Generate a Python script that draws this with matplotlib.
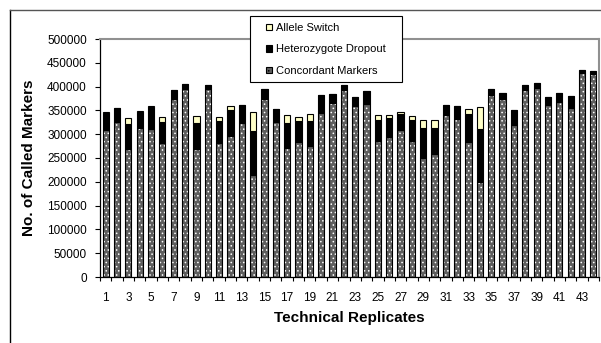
'''
    Stacked bar chart of called markers per technical replicate
'''

from matplotlib import pyplot as plt
from matplotlib.patches import Patch, Rectangle
from matplotlib.lines import Line2D
import numpy as np

plt.rcParams['font.family'] = ['Liberation Sans', 'DejaVu Sans']
plt.rcParams['hatch.linewidth'] = 0.6

# Called markers per replicate (thousands): concordant, het. dropout, allele switch
replicates = list(range(1, 45))
concordant = [309, 326, 269, 314, 311, 281, 374, 396, 268, 395, 282,
              297, 324, 215, 374, 325, 271, 284, 276, 345, 365, 392,
              359, 363, 285, 295, 308, 286, 249, 258, 340, 331, 284,
              200, 383, 375, 320, 393, 398, 362, 368, 356, 428, 426]
dropout = [35, 28, 52, 33, 47, 44, 19, 9, 55, 8, 46,
           53, 37, 92, 20, 27, 53, 44, 52, 37, 19, 11,
           20, 28, 45, 39, 35, 44, 63, 56, 21, 28, 59,
           110, 12, 11, 30, 10, 10, 17, 18, 25, 6, 6]
allele_switch = [2, 0, 12, 2, 2, 11, 0, 0, 15, 0, 8,
                 10, 0, 40, 0, 0, 16, 9, 14, 0, 0, 0,
                 0, 0, 10, 6, 4, 8, 18, 15, 0, 0, 9,
                 47, 0, 0, 0, 0, 0, 0, 0, 0, 0, 0]

labels = ['Allele Switch', 'Heterozygote Dropout', 'Concordant Markers']
yticks = np.arange(0, 500001, 50000)

BAR_WIDTH = 0.55
GREY_FILL = '#5e5e5e'
ALLELE_FILL = '#ffffc8'
OUTLINE = {'facecolor': 'none', 'edgecolor': 'k', 'linewidth': 0.8}

def main():
    x = np.array(replicates)
    conc = np.array(concordant) * 1000
    drop = np.array(dropout) * 1000
    allele = np.array(allele_switch) * 1000

    fig = plt.figure(figsize=(6.01, 3.43), dpi=100)
    W, H = 601.0, 343.0

    # outer chart frame
    fig.add_artist(Line2D([10 / W, 10 / W], [0, 1 - 10 / H], color='k', lw=1.0))
    fig.add_artist(Line2D([10 / W, 1], [1 - 10 / H, 1 - 10 / H], color='#555555', lw=1.0))

    ax = fig.add_axes([100 / W, 66 / H, 499 / W, 238 / H])

    # concordant markers: grey with white dot pattern, outlined separately
    ax.bar(x, conc, BAR_WIDTH, color=GREY_FILL, edgecolor='white',
           hatch='....', linewidth=0, zorder=2)
    ax.bar(x, conc, BAR_WIDTH, zorder=3, **OUTLINE)
    ax.bar(x, drop, BAR_WIDTH, bottom=conc, color='k', edgecolor='k',
           linewidth=0.8, zorder=3)
    ax.bar(x, allele, BAR_WIDTH, bottom=conc + drop, color=ALLELE_FILL,
           edgecolor='k', linewidth=0.8, zorder=3)

    ax.set_xlim(0.5, 44.5)
    ax.set_ylim(0, 500000)
    ax.set_yticks(yticks)
    ax.set_yticklabels([str(v) for v in yticks], fontsize=8.5)

    # labels every other replicate, tick marks on category boundaries
    ax.set_xticks(x[::2])
    ax.set_xticklabels([str(v) for v in replicates[::2]], fontsize=8.5)
    ax.set_xticks(np.arange(0.5, 45, 1), minor=True)
    ax.tick_params(axis='x', which='major', length=0, pad=11)
    ax.tick_params(axis='x', which='minor', length=3, width=0.8, direction='out')
    ax.tick_params(axis='y', length=3.5, width=0.8, pad=6)

    for side in ['left', 'bottom']:
        ax.spines[side].set_linewidth(0.9)
    for side in ['top', 'right']:
        ax.spines[side].set_color('#909090')
        ax.spines[side].set_linewidth(1.5)

    ax.set_ylabel('No. of Called Markers', fontsize=11, fontweight='bold', labelpad=8)
    ax.set_xlabel('Technical Replicates', fontsize=11, fontweight='bold', labelpad=5)

    # legend box drawn by hand so the padding can differ per side
    fig.add_artist(Rectangle((250 / W, 1 - 82 / H), 152 / W, 66 / H,
                             transform=fig.transFigure, facecolor='white',
                             edgecolor='k', linewidth=0.8, zorder=9))
    handles = [Patch(facecolor=ALLELE_FILL, edgecolor='k', linewidth=0.8),
               Patch(facecolor='k', edgecolor='k', linewidth=0.8),
               Patch(facecolor=GREY_FILL, edgecolor='k', linewidth=0.8, hatch='....')]
    leg = fig.legend(handles, labels, loc='upper left',
                     bbox_to_anchor=(266 / W, 1 - 23 / H), fontsize=8,
                     handlelength=0.55, handleheight=0.55, handletextpad=0.35,
                     labelspacing=1.03, borderpad=0, borderaxespad=0,
                     frameon=False)
    leg.set_zorder(10)

    fig.savefig('out.png', dpi=100)
    plt.close(fig)

if __name__ == '__main__': main()
